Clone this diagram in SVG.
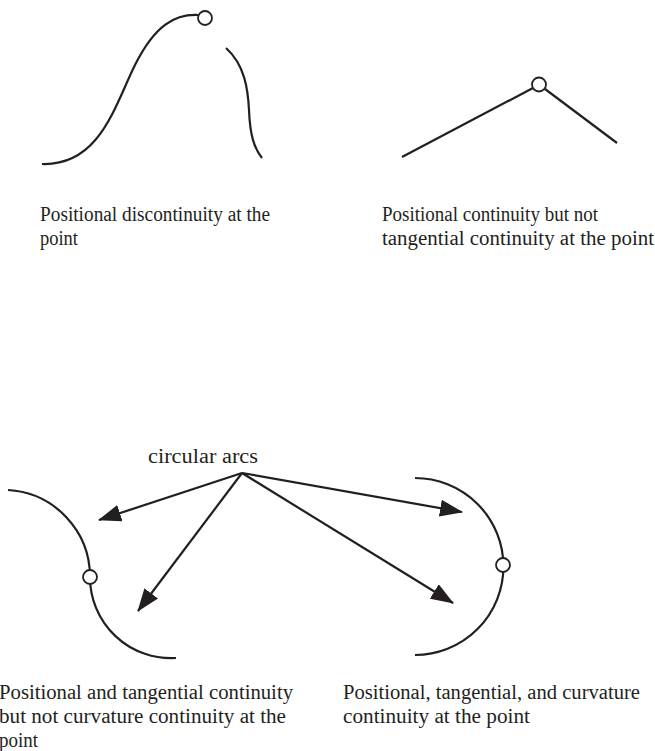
<svg xmlns="http://www.w3.org/2000/svg" width="655" height="751" viewBox="0 0 655 751">
<style>
.c{fill:none;stroke:#231f20;stroke-width:2.2;stroke-linecap:butt}
.pt{fill:#fff;stroke:#231f20;stroke-width:1.8}
.t{font-family:"Liberation Serif","Times New Roman",serif;font-size:20px;fill:#231f20}
.a{fill:none;stroke:#231f20;stroke-width:2.2}
</style>
<defs>
<marker id="ah" markerUnits="userSpaceOnUse" markerWidth="23" markerHeight="17" viewBox="0 0 23 17" refX="22" refY="8.5" orient="auto">
<path d="M0,0 L23,8.5 L0,17 z" fill="#231f20"/>
</marker>
</defs>
<rect width="655" height="751" fill="#fff"/>
<g id="fig1">
<path class="c" d="M42,164 C100,166 115,105 135,65 C155,25 175,14 198,15"/>
<path class="c" d="M226,48 C245,65 248,90 249,110 C250,135 254,148 262,158"/>
<circle class="pt" cx="205" cy="18" r="7"/>
<text class="t" x="40" y="221" textLength="230" lengthAdjust="spacingAndGlyphs">Positional discontinuity at the</text>
<text class="t" x="40" y="245" textLength="38" lengthAdjust="spacingAndGlyphs">point</text>
</g>
<g id="fig2">
<path class="c" d="M402,157 L533,88 M545,89 L617,143"/>
<circle class="pt" cx="539" cy="84.5" r="7"/>
<text class="t" x="382" y="221" textLength="216" lengthAdjust="spacingAndGlyphs">Positional continuity but not</text>
<text class="t" x="382" y="245" textLength="272" lengthAdjust="spacingAndGlyphs">tangential continuity at the point</text>
</g>
<g id="fig3">
<path class="c" d="M8,490 A87,87 0 0 1 90,577 A81,81 0 0 0 176,658"/>
<circle class="pt" cx="90" cy="577" r="7"/>
<text class="t" x="-1" y="699" textLength="294" lengthAdjust="spacingAndGlyphs">Positional and tangential continuity</text>
<text class="t" x="-1" y="723" textLength="287" lengthAdjust="spacingAndGlyphs">but not curvature continuity at the</text>
<text class="t" x="-1" y="747" textLength="39" lengthAdjust="spacingAndGlyphs">point</text>
</g>
<g id="fig4">
<path class="c" d="M415,478 A88,88 0 0 1 415,655"/>
<circle class="pt" cx="503" cy="565" r="7"/>
<text class="t" x="343" y="699" textLength="297" lengthAdjust="spacingAndGlyphs">Positional, tangential, and curvature</text>
<text class="t" x="343" y="723" textLength="187" lengthAdjust="spacingAndGlyphs">continuity at the point</text>
</g>
<g id="label">
<text class="t" x="148" y="463" textLength="110" lengthAdjust="spacingAndGlyphs">circular arcs</text>
</g>
<g id="connectors">
<line class="a" x1="242" y1="473" x2="99" y2="520" marker-end="url(#ah)"/>
<line class="a" x1="242" y1="473" x2="138" y2="611" marker-end="url(#ah)"/>
<line class="a" x1="242" y1="473" x2="462" y2="512" marker-end="url(#ah)"/>
<line class="a" x1="242" y1="473" x2="453" y2="603" marker-end="url(#ah)"/>
</g>
</svg>
